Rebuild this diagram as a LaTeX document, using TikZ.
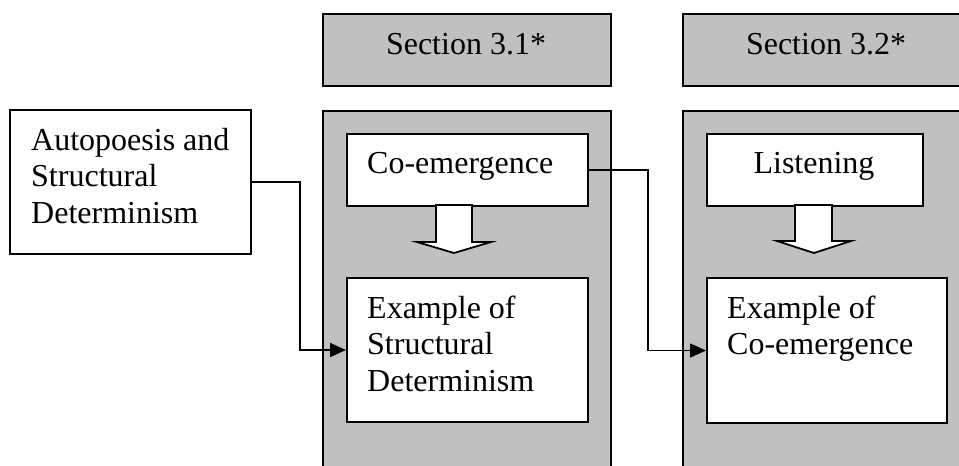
\documentclass[tikz,border=0pt]{standalone}
\usepackage{fontspec}
\setmainfont{Liberation Serif}
\usetikzlibrary{arrows.meta}
\definecolor{panelgray}{HTML}{C0C0C0}
\newcommand\mlines[1]{\parbox[t]{8cm}{\raggedright #1}}
\tikzset{
 panel/.style={draw, line width=2pt, fill=panelgray, anchor=north west, inner sep=0pt},
 wbox/.style={draw, line width=2pt, fill=white, anchor=north west, inner sep=0pt},
 txt/.style={inner sep=0pt, font=\fontsize{32}{36.5}\selectfont},
 conn/.style={line width=1.6pt, -{Triangle[length=16pt,width=14pt]}},
 blockarrow/.style={draw, line width=1.8pt, fill=white, line join=miter}
}
\begin{document}
\begin{tikzpicture}[x=1pt,y=-1pt]
\useasboundingbox (0,0) rectangle (959,466);
\clip (0,0) rectangle (959,466);
% section headers and panels
\node[panel, minimum width=288pt, minimum height=72pt] (s1) at (322,13) {};
\node[panel, minimum width=288pt, minimum height=72pt] (s2) at (682,13) {};
\node[panel, minimum width=288pt, minimum height=380pt] (p1) at (322,110) {};
\node[panel, minimum width=288pt, minimum height=380pt] (p2) at (682,110) {};
% white boxes
\node[wbox, minimum width=241pt, minimum height=144pt] (auto) at (9,109) {};
\node[wbox, minimum width=241pt, minimum height=72pt] (co) at (346,133) {};
\node[wbox, minimum width=241pt, minimum height=144pt] (ex1) at (346,277) {};
\node[wbox, minimum width=216pt, minimum height=72pt] (lis) at (706,133) {};
\node[wbox, minimum width=240pt, minimum height=145pt] (ex2) at (706,277) {};
% texts
\node[txt, anchor=base] (s1t) at (466,54) {Section 3.1*};
\node[txt, anchor=base] (s2t) at (826,54) {Section 3.2*};
\node[txt, anchor=base west] (autot) at (31,150) {\mlines{Autopoesis and\\Structural\\Determinism}};
\node[txt, anchor=base west] (cot) at (367,173) {Co-emergence};
\node[txt, anchor=base] (list) at (814,173) {Listening};
\node[txt, anchor=base west] (ex1t) at (367,318) {\mlines{Example of\\Structural\\Determinism}};
\node[txt, anchor=base west] (ex2t) at (727,318) {\mlines{Example of\\Co-emergence}};
% block arrows
\draw[blockarrow] (436,205) -- (436,242) -- (417,242) -- (454,253) -- (491,242) -- (472,242) -- (472,205) -- cycle;
\draw[blockarrow] (795,205) -- (795,241) -- (777,241) -- (814,253) -- (851,241) -- (832,241) -- (832,205) -- cycle;
% connectors
\draw[conn] (auto.east) -- ++(48,0) |- (ex1.west);
\draw[conn] (co.east) -- ++(59,0) |- (ex2.west);
\end{tikzpicture}
\end{document}
